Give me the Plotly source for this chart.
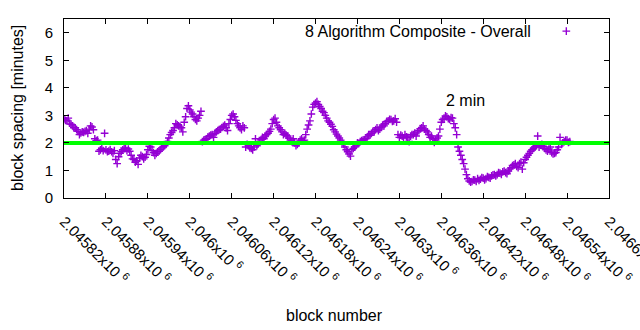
import plotly.graph_objects as go

# Block spacing (minutes), one sample every 2 blocks starting at block 2045820
FIRST_BLOCK = 2045820
BLOCK_STEP = 2
spacing_min = [
    2.87, 2.82, 2.80, 2.90, 2.72, 2.68, 2.62, 2.55, 2.55, 2.48,
    2.42, 2.30, 2.36, 2.40, 2.38, 2.42, 2.45, 2.35, 2.50, 2.62,
    2.58, 2.48, 2.15, 2.08, 2.10, 1.70, 1.75, 1.80, 1.72, 2.35,
    1.75, 1.68, 1.70, 1.76, 1.68, 1.62, 1.72, 1.40, 1.25, 1.50,
    1.62, 1.68, 1.75, 1.82, 1.80, 1.72, 1.78, 1.70, 1.55, 1.42,
    1.40, 1.30, 1.35, 1.22, 1.45, 1.55, 1.50, 1.42, 1.48, 1.58,
    1.75, 1.88, 1.85, 1.72, 1.65, 1.55, 1.62, 1.68, 1.70, 1.76,
    1.82, 1.86, 1.90, 1.95, 2.05, 2.18, 2.30, 2.38, 2.45, 2.55,
    2.70, 2.66, 2.62, 2.58, 2.55, 2.40, 2.75, 2.95, 3.25, 3.35,
    3.20, 3.12, 3.05, 2.95, 2.85, 2.80, 2.90, 3.00, 3.15, 2.05,
    2.10, 2.12, 2.15, 2.22, 2.25, 2.28, 2.30, 2.20, 2.35, 2.40,
    2.45, 2.48, 2.50, 2.56, 2.60, 2.65, 2.55, 2.45, 2.70, 2.85,
    3.00, 3.05, 2.95, 2.82, 2.70, 2.62, 2.55, 2.48, 2.62, 2.55,
    1.85, 1.95, 1.90, 1.82, 1.80, 1.75, 1.85, 2.15, 1.90, 1.96,
    2.05, 2.12, 2.20, 2.15, 2.25, 2.30, 2.35, 2.42, 2.50, 2.70,
    2.85, 2.90, 2.75, 2.62, 2.55, 2.48, 2.40, 2.30, 2.35, 2.28,
    2.25, 2.18, 2.10, 2.05, 2.15, 2.00, 1.90, 1.95, 2.00, 2.10,
    2.15, 2.08, 2.10, 2.30, 2.50, 2.65, 2.80, 3.05, 3.30, 3.40,
    3.45, 3.50, 3.40, 3.32, 3.25, 3.15, 3.10, 3.00, 2.90, 2.80,
    2.75, 2.68, 2.60, 2.48, 2.40, 2.32, 2.25, 2.18, 2.10, 2.02,
    1.95, 1.85, 1.75, 1.68, 1.60, 1.52, 1.75, 1.80, 1.85, 1.92,
    2.00, 1.98, 2.05, 2.08, 2.10, 2.12, 2.15, 2.22, 2.30, 2.28,
    2.35, 2.42, 2.40, 2.48, 2.55, 2.45, 2.50, 2.58, 2.65, 2.62,
    2.70, 2.78, 2.80, 2.86, 2.85, 2.78, 2.80, 2.88, 2.75, 2.30,
    2.20, 2.28, 2.25, 2.18, 2.30, 2.22, 2.20, 2.05, 2.25, 2.30,
    2.30, 2.36, 2.25, 2.40, 2.45, 2.52, 2.55, 2.62, 2.50, 2.45,
    2.40, 2.30, 2.20, 2.25, 2.15, 2.02, 2.10, 2.18, 2.25, 2.50,
    2.75, 2.85, 2.90, 2.98, 2.95, 2.88, 2.85, 2.92, 2.90, 2.70,
    2.55, 2.30, 1.85, 1.70, 1.55, 1.40, 1.25, 1.05, 0.85, 0.70,
    0.62, 0.58, 0.60, 0.66, 0.65, 0.60, 0.70, 0.64, 0.68, 0.74,
    0.72, 0.66, 0.70, 0.78, 0.75, 0.72, 0.80, 0.84, 0.85, 0.80,
    0.85, 0.92, 0.90, 0.86, 0.95, 0.98, 0.92, 0.88, 0.98, 1.05,
    1.10, 1.18, 1.20, 1.25, 1.15, 1.10, 1.25, 1.30, 1.05, 1.28,
    1.40, 1.48, 1.55, 1.62, 1.70, 1.75, 1.80, 1.85, 1.90, 2.25,
    1.85, 1.92, 1.95, 1.88, 1.80, 1.75, 1.70, 1.78, 1.85, 1.65,
    1.60, 1.62, 1.65, 1.75, 1.85, 2.20, 1.95, 2.00, 2.05, 2.10,
    2.10, 2.02, 2.05,
]
blocks = [FIRST_BLOCK + BLOCK_STEP * i for i in range(len(spacing_min))]

TARGET_MIN = 2.0
X_RANGE = [2045819.9, 2046600.1]
Y_RANGE = [0, 6.5]

tick_vals = [2045820, 2045880, 2045940, 2046000, 2046060, 2046120, 2046180,
             2046240, 2046300, 2046360, 2046420, 2046480, 2046540, 2046600]
tick_mantissas = ["2.04582", "2.04588", "2.04594", "2.046", "2.04606", "2.04612",
                  "2.04618", "2.04624", "2.0463", "2.04636", "2.04642", "2.04648",
                  "2.04654", "2.0466"]
tick_text = [m + "x10 <sup>6</sup>" for m in tick_mantissas]

FONT = "Liberation Sans, Arial, sans-serif"
PURPLE = "#9400D3"

fig = go.Figure()
fig.add_trace(go.Scatter(
    x=blocks, y=spacing_min, mode="markers", name=" ",
    marker=dict(symbol="cross-thin", size=5.5, line=dict(color=PURPLE, width=1.4), color=PURPLE),
    showlegend=True,
))
fig.add_trace(go.Scatter(
    x=X_RANGE, y=[TARGET_MIN, TARGET_MIN], mode="lines",
    line=dict(color="#00FF00", width=4), showlegend=False,
))

axis_common = dict(
    showline=True, linecolor="black", linewidth=1, mirror="ticks",
    ticks="inside", ticklen=5, tickcolor="black", showgrid=False, zeroline=False,
    tickfont=dict(family=FONT, size=15, color="black"),
)
fig.update_xaxes(range=X_RANGE, tickvals=tick_vals, ticktext=tick_text,
                 tickangle=45, automargin=False, ticklabelstandoff=8,
                 ticklabeloverflow="allow", **axis_common)
fig.update_yaxes(range=Y_RANGE, tickvals=[0, 1, 2, 3, 4, 5, 6],
                 automargin=False, ticklabelstandoff=7, **axis_common)

fig.update_layout(
    width=640, height=330,
    margin=dict(l=64, r=31, t=19, b=132),
    paper_bgcolor="white", plot_bgcolor="white",
    font=dict(family=FONT, size=16, color="black"),
    legend=dict(x=0.885, y=1.023, xanchor="left", yanchor="top",
                bgcolor="rgba(0,0,0,0)", font=dict(size=15)),
    annotations=[
        dict(text="8 Algorithm Composite - Overall", xref="paper", yref="paper",
             x=(533 - 64) / 545, y=(198 - 32) / 179, xanchor="right", yanchor="middle",
             showarrow=False, font=dict(family=FONT, size=16)),
        dict(text="2 min", x=2046394, y=3.53, xref="x", yref="y", showarrow=False,
             font=dict(family=FONT, size=16)),
        dict(text="block spacing [minutes]", xref="paper", yref="paper",
             x=(17 - 64) / 545, y=(198 - 108) / 179, textangle=-90,
             xanchor="center", yanchor="middle", showarrow=False,
             font=dict(family=FONT, size=16)),
        dict(text="block number", xref="paper", yref="paper",
             x=(334 - 64) / 545, y=(198 - 315) / 179,
             xanchor="center", yanchor="middle", showarrow=False,
             font=dict(family=FONT, size=16)),
    ],
)

fig.write_html("out.html")
